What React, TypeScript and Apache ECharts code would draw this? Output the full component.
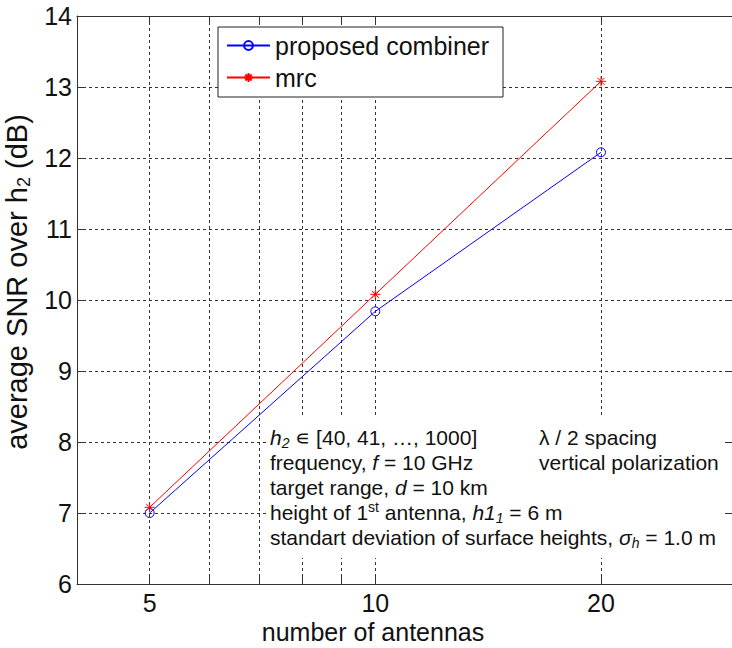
import React, { useEffect, useRef } from 'react';
import * as echarts from 'echarts';

// Number of antennas on the (log) x axis and the averaged SNR in dB
const antennas = [5, 10, 20];
const proposedSNR = [7.0, 9.84, 12.08];
const mrcSNR = [7.08, 10.08, 13.08];
const seriesNames = ['proposed combiner', 'mrc'];

// Axis ticks: labelled values and the values that get a grid line
const xTickLabels = [5, 10, 20];
const xGridValues = [5, 6, 7, 8, 9, 10, 20];
const yTicks = { min: 6, max: 14, step: 1 };

// Simulation parameters printed inside the plot
const noteLeft = [
  '{i|h}{isub|2} ∊ [40, 41, …, 1000]',
  'frequency, {i|f} = 10 GHz',
  'target range, {i|d} = 10 km',
  'height of 1{sup|st} antenna, {i|h1}{isub|1} = 6 m',
  'standart deviation of surface heights, {i|σ}{isub|h} = 1.0 m',
];
const noteRight = ['λ / 2 spacing', 'vertical polarization'];

const FONT = '"Liberation Sans", Arial, Helvetica, sans-serif';
const GRID_LINE = { type: [3, 3] as number[], color: '#333', width: 1 };
const AXIS_COLOR = '#333';
const NOTE_SIZE = 21;

const CIRCLE = 'path://M10,5A5,5,0,1,1,0,5A5,5,0,1,1,10,5Z';
const ASTERISK = 'path://M0,5L10,5M5,0L5,10M1.5,1.5L8.5,8.5M1.5,8.5L8.5,1.5';

const noteRich = {
  i: { fontStyle: 'italic', fontSize: NOTE_SIZE, fontFamily: FONT, lineHeight: 25 },
  isub: { fontStyle: 'italic', fontSize: 14, fontFamily: FONT, lineHeight: 14, verticalAlign: 'bottom' },
  sup: { fontSize: 14, fontFamily: FONT, lineHeight: 14, verticalAlign: 'top' },
};

export default function App() {
  const ref = useRef<HTMLDivElement>(null);

  useEffect(() => {
    document.body.style.margin = '0';
    if (!ref.current) return;
    const chart = echarts.init(ref.current, undefined, { renderer: 'svg' });

    const ticks = { show: true, inside: true, length: 8, lineStyle: { color: AXIS_COLOR } };

    chart.setOption({
      animation: false,
      backgroundColor: '#fff',
      textStyle: { fontFamily: FONT },
      grid: { left: 77, top: 16, right: -1, bottom: 64, containLabel: false, outerBoundsMode: 'none' },
      legend: {
        data: seriesNames,
        orient: 'vertical',
        left: 218,
        top: 27,
        itemWidth: 43,
        itemHeight: 11,
        itemGap: 7,
        padding: [6, 14, 7, 8],
        backgroundColor: '#fff',
        borderColor: '#222',
        borderWidth: 1,
        selectedMode: false,
        textStyle: { fontSize: 25, color: '#111', fontFamily: FONT },
      },
      xAxis: [
        {
          type: 'log',
          logBase: 10,
          min: 4,
          max: 30,
          position: 'bottom',
          axisLine: { show: true, lineStyle: { color: AXIS_COLOR } },
          axisTick: { ...ticks, customValues: xGridValues },
          minorTick: { show: false },
          axisLabel: { customValues: xTickLabels, fontSize: 25, color: '#111', margin: 6, fontFamily: FONT },
          splitLine: { show: true, lineStyle: GRID_LINE },
          name: 'number of antennas',
          nameLocation: 'middle',
          nameGap: 32,
          nameTextStyle: { fontSize: 25, color: '#111', fontFamily: FONT, padding: [0, 64, 0, 0] },
        },
        {
          type: 'log',
          logBase: 10,
          min: 4,
          max: 30,
          position: 'top',
          axisLine: { show: true, lineStyle: { color: AXIS_COLOR } },
          axisTick: { ...ticks, customValues: xGridValues },
          axisLabel: { show: false },
          splitLine: { show: false },
        },
      ],
      yAxis: [
        {
          type: 'value',
          min: yTicks.min,
          max: yTicks.max,
          interval: yTicks.step,
          position: 'left',
          axisLine: { show: true, lineStyle: { color: AXIS_COLOR } },
          axisTick: ticks,
          axisLabel: { fontSize: 25, color: '#111', margin: 5, fontFamily: FONT },
          splitLine: { show: true, lineStyle: GRID_LINE },
          name: 'average SNR over h{sub|2} (dB)',
          nameLocation: 'middle',
          nameRotate: 90,
          nameGap: 35,
          nameTextStyle: {
            fontSize: 29,
            color: '#111',
            fontFamily: FONT,
            lineHeight: 32,
            padding: [0, 0, 0, 36],
            rich: { sub: { fontSize: 18, fontFamily: FONT, lineHeight: 18, verticalAlign: 'bottom', color: '#111' } },
          },
        },
        {
          type: 'value',
          min: yTicks.min,
          max: yTicks.max,
          interval: yTicks.step,
          position: 'right',
          axisLine: { show: true, lineStyle: { color: AXIS_COLOR } },
          axisTick: ticks,
          axisLabel: { show: false },
          splitLine: { show: false },
        },
      ],
      series: [
        {
          name: seriesNames[0],
          type: 'line',
          xAxisIndex: 0,
          yAxisIndex: 0,
          data: antennas.map((n, i) => [n, proposedSNR[i]]),
          symbol: CIRCLE,
          symbolSize: 9,
          lineStyle: { color: '#0000ff', width: 1 },
          itemStyle: { color: 'rgba(0,0,0,0)', borderColor: '#0000ff', borderWidth: 1 },
          z: 5,
        },
        {
          name: seriesNames[1],
          type: 'line',
          xAxisIndex: 0,
          yAxisIndex: 0,
          data: antennas.map((n, i) => [n, mrcSNR[i]]),
          symbol: ASTERISK,
          symbolSize: 10,
          lineStyle: { color: '#ff0000', width: 1 },
          itemStyle: { color: 'rgba(0,0,0,0)', borderColor: '#ff0000', borderWidth: 1 },
          z: 5,
        },
      ],
      graphic: [
        {
          type: 'rect',
          z: 100,
          shape: { x: 267, y: 418, width: 455, height: 140 },
          style: { fill: '#fff' },
        },
        {
          type: 'text',
          z: 101,
          x: 270,
          y: 424.5,
          style: {
            text: noteLeft.join('\n'),
            fontSize: NOTE_SIZE,
            fontFamily: FONT,
            lineHeight: 25,
            fill: '#111',
            align: 'left',
            verticalAlign: 'top',
            rich: noteRich,
          },
        },
        {
          type: 'text',
          z: 101,
          x: 539,
          y: 424.5,
          style: {
            text: noteRight.join('\n'),
            fontSize: NOTE_SIZE,
            fontFamily: FONT,
            lineHeight: 25,
            fill: '#111',
            align: 'left',
            verticalAlign: 'top',
          },
        },
      ],
    });

    return () => chart.dispose();
  }, []);

  return <div ref={ref} style={{ width: 732, height: 648 }} />;
}
